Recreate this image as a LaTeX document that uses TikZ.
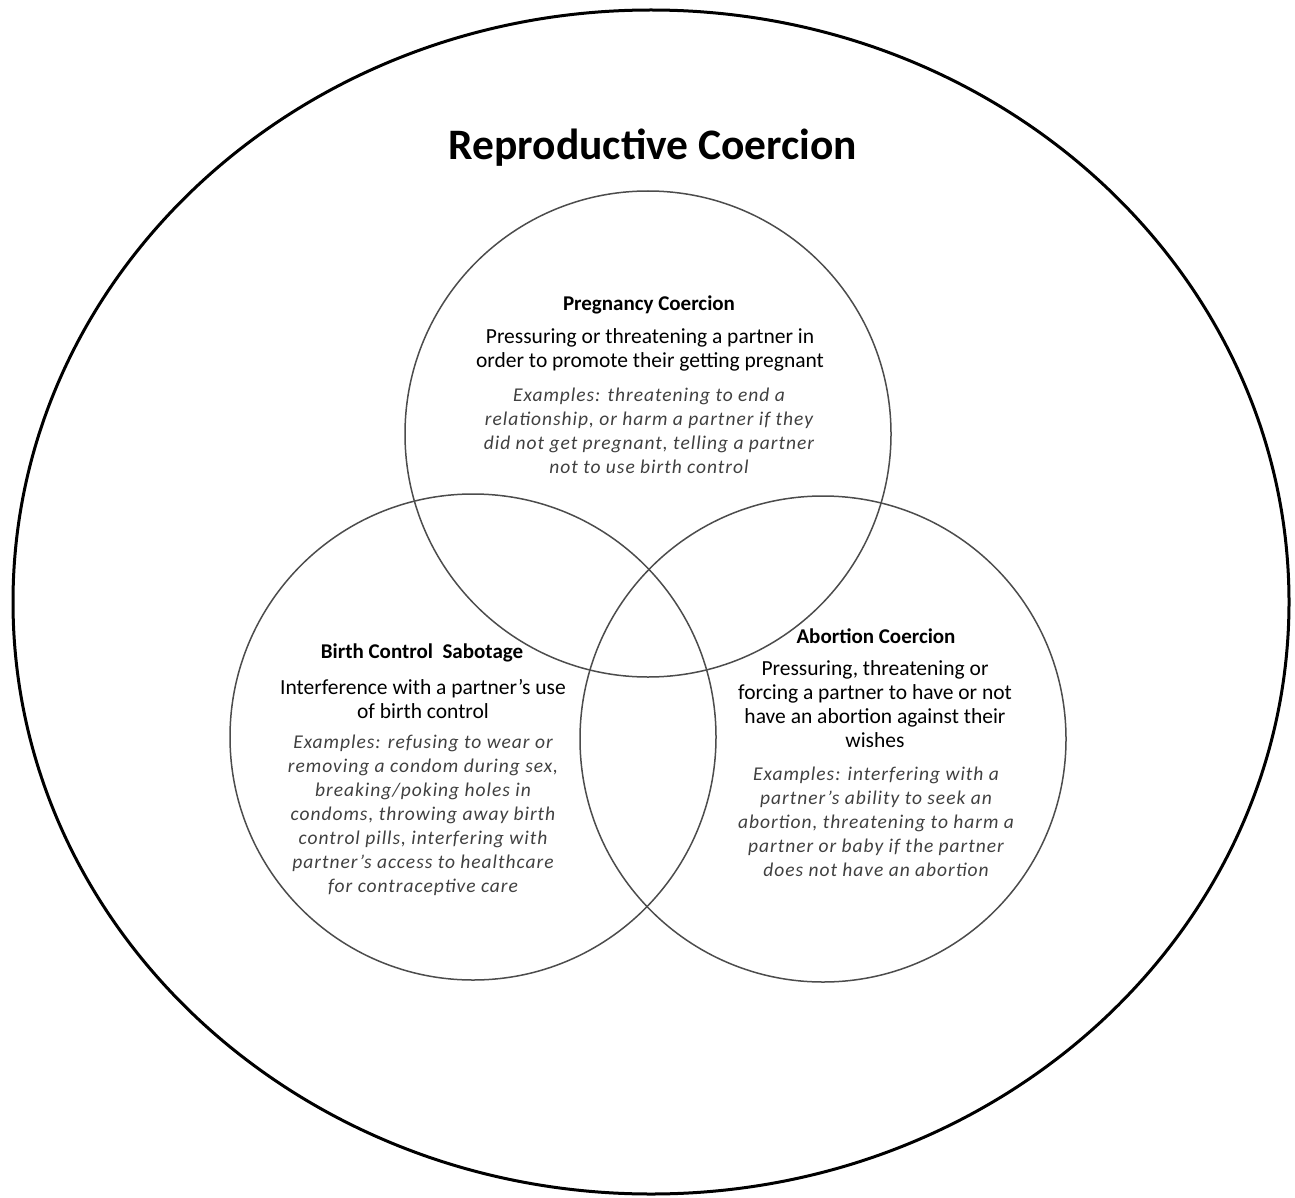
\documentclass[tikz,border=0pt]{standalone}
\usepackage{fontspec}
\setmainfont{Carlito}
\usepackage{xcolor}
\usetikzlibrary{positioning}

\definecolor{ringgray}{gray}{0.3}
\definecolor{examplegray}{gray}{0.25}

\tikzset{
  ring/.style={draw=ringgray, line width=1.5pt, circle, minimum size=486pt, inner sep=0pt},
  heading/.style={font=\fontsize{21}{24}\selectfont\bfseries, align=center, inner sep=0pt},
  bodytext/.style={font=\fontsize{21.5}{24}\selectfont, align=center, inner sep=0pt},
  exampletext/.style={font=\fontsize{19.5}{24}\selectfont\itshape\addfontfeatures{LetterSpace=5}, text=examplegray, align=center, inner sep=0pt}
}

\begin{document}
\begin{tikzpicture}[x=1pt, y=-1pt]
    \useasboundingbox (0,0) rectangle (1295,1198);

    \coordinate (Outer) at (651, 602);
    \coordinate (Top) at (648, 434);
    \coordinate (Left) at (473, 737);
    \coordinate (Right) at (823, 739);

    % outer ellipse and the three circles
    \draw [black, line width=3pt] (Outer) ellipse [x radius=638, y radius=592];
    \node [ring] (TopRing) at (Top) {};
    \node [ring] (LeftRing) at (Left) {};
    \node [ring] (RightRing) at (Right) {};

    \node [font=\fontsize{43.5}{48}\selectfont\bfseries, inner sep=0pt] (Title) at (653, 148) {Reproductive Coercion};

    % pregnancy coercion
    \node [heading] (PregHead) at (649, 305) {Pregnancy Coercion};
    \node [bodytext] (PregBody) at (650, 350) {Pressuring or threatening a partner in\\order to promote their getting pregnant};
    \node [exampletext] (PregEx) at (649, 431) {Examples: threatening to end a\\relationship, or harm a partner if they\\did not get pregnant, telling a partner\\not to use birth control};

    % birth control sabotage
    \node [heading] (BirthHead) at (422, 653) {Birth Control~ Sabotage};
    \node [bodytext] (BirthBody) at (423, 699) {Interference with a partner's use\\of birth control};
    \node [exampletext] (BirthEx) at (423, 815) {Examples: refusing to wear or\\removing a condom during sex,\\breaking/poking holes in\\condoms, throwing away birth\\control pills, interfering with\\partner's access to healthcare\\for contraceptive care};

    % abortion coercion
    \node [heading] (AbortHead) at (876, 636) {Abortion Coercion};
    \node [bodytext] (AbortBody) at (875, 704) {Pressuring, threatening or\\forcing a partner to have or not\\have an abortion against their\\wishes};
    \node [exampletext] (AbortEx) at (876, 822) {Examples: interfering with a\\partner's ability to seek an\\abortion, threatening to harm a\\partner or baby if the partner\\does not have an abortion};
\end{tikzpicture}
\end{document}
